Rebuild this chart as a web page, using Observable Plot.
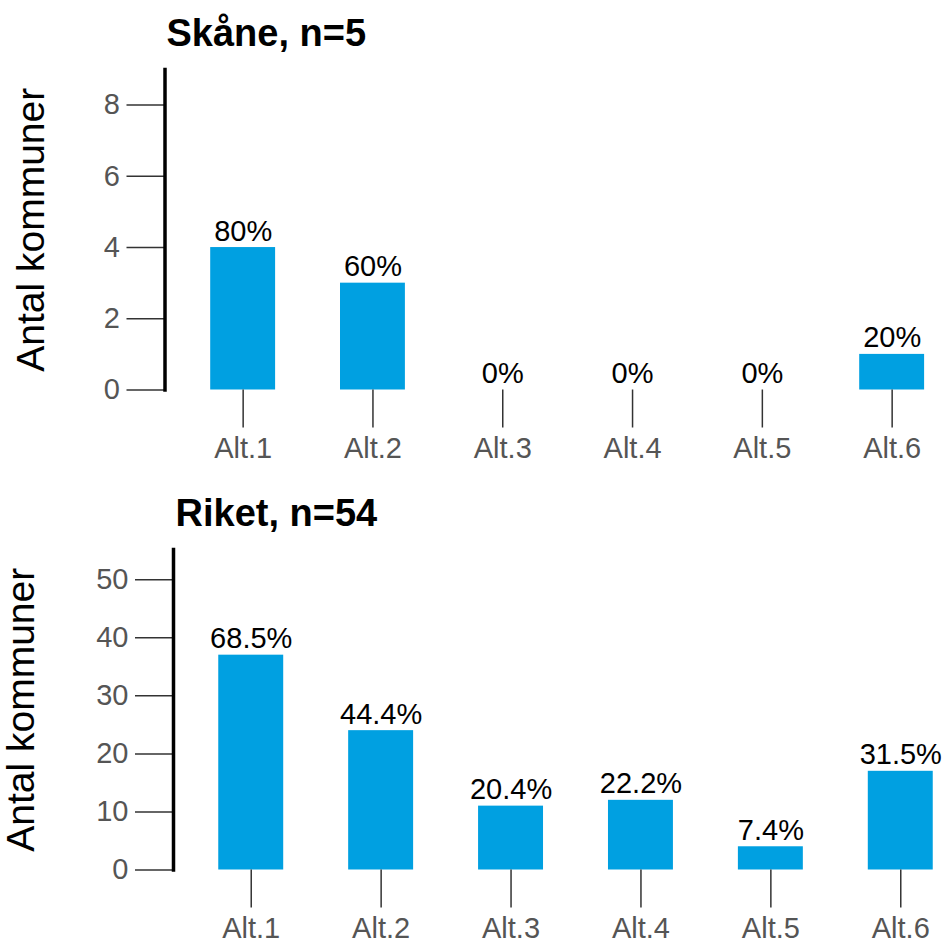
<!DOCTYPE html>
<html>
<head>
<meta charset="utf-8">
<script src="https://cdn.jsdelivr.net/npm/d3@7"></script>
<script src="https://cdn.jsdelivr.net/npm/@observablehq/plot@0.6"></script>
<style>
  body { margin: 0; background: #fff; }
  #wrap { width: 949px; height: 943px; overflow: hidden; }
  #wrap svg { display: block; }
</style>
</head>
<body>
<div id="wrap"></div>
<script>
const categories = ["Alt.1", "Alt.2", "Alt.3", "Alt.4", "Alt.5", "Alt.6"];

const skaneTitle = "Skåne, n=5";
const skaneValues = [4, 3, 0, 0, 0, 1];
const skaneLabels = ["80%", "60%", "0%", "0%", "0%", "20%"];
const skaneTicks = [0, 2, 4, 6, 8];

const riketTitle = "Riket, n=54";
const riketValues = [37, 24, 11, 12, 4, 17];
const riketLabels = ["68.5%", "44.4%", "20.4%", "22.2%", "7.4%", "31.5%"];
const riketTicks = [0, 10, 20, 30, 40, 50];

const yLabel = "Antal kommuner";
const barColor = "#00a0e1";
const font = "'Liberation Sans', Arial, sans-serif";

function panel({title, values, labels, ticks, yMax, height, marginTop, marginBottom, marginLeft, xRange, labelDx, titleDx}) {
  const data = categories.map((c, i) => ({cat: c, value: values[i], label: labels[i]}));
  return Plot.plot({
    width: 949,
    height,
    marginTop,
    marginBottom,
    marginLeft,
    marginRight: 0,
    style: {fontFamily: font, background: "white"},
    x: {type: "band", domain: categories, range: xRange, padding: 0.5, round: false, label: null},
    y: {domain: [0, yMax], label: null},
    marks: [
      Plot.barY(data, {x: "cat", y: "value", fill: barColor}),
      Plot.text(data, {x: "cat", y: "value", text: "label", lineAnchor: "bottom", dy: -7, fontSize: 29, fill: "black"}),
      Plot.axisY({ticks, tickSize: 38, tickPadding: 7, fontSize: 29, stroke: "#333", fill: "#555", strokeWidth: 1.5, label: null}),
      Plot.axisX({tickSize: 38, tickPadding: 9, fontSize: 29, stroke: "#333", fill: "#555", strokeWidth: 1.5, label: null}),
      Plot.frame({anchor: "left", stroke: "black", strokeWidth: 3.5}),
      Plot.text([yLabel], {frameAnchor: "left", rotate: -90, lineAnchor: "bottom", textAnchor: "middle", dx: labelDx, fontSize: 39, fill: "black"}),
      Plot.text([title], {frameAnchor: "top-left", textAnchor: "start", lineAnchor: "bottom", dx: titleDx, dy: -24, fontSize: 38, fontWeight: "bold", fill: "black"})
    ]
  });
}

const wrap = document.getElementById("wrap");
wrap.appendChild(panel({
  title: skaneTitle, values: skaneValues, labels: skaneLabels, ticks: skaneTicks,
  yMax: 9, height: 470, marginTop: 69, marginBottom: 80.5, marginLeft: 164.5,
  xRange: [145.3, 989], labelDx: -121.5, titleDx: 1.5
}));
wrap.appendChild(panel({
  title: riketTitle, values: riketValues, labels: riketLabels, ticks: riketTicks,
  yMax: 55.2, height: 473, marginTop: 79, marginBottom: 73.5, marginLeft: 173,
  xRange: [153.3, 997.7], labelDx: -139.5, titleDx: 2
}));
</script>
</body>
</html>
